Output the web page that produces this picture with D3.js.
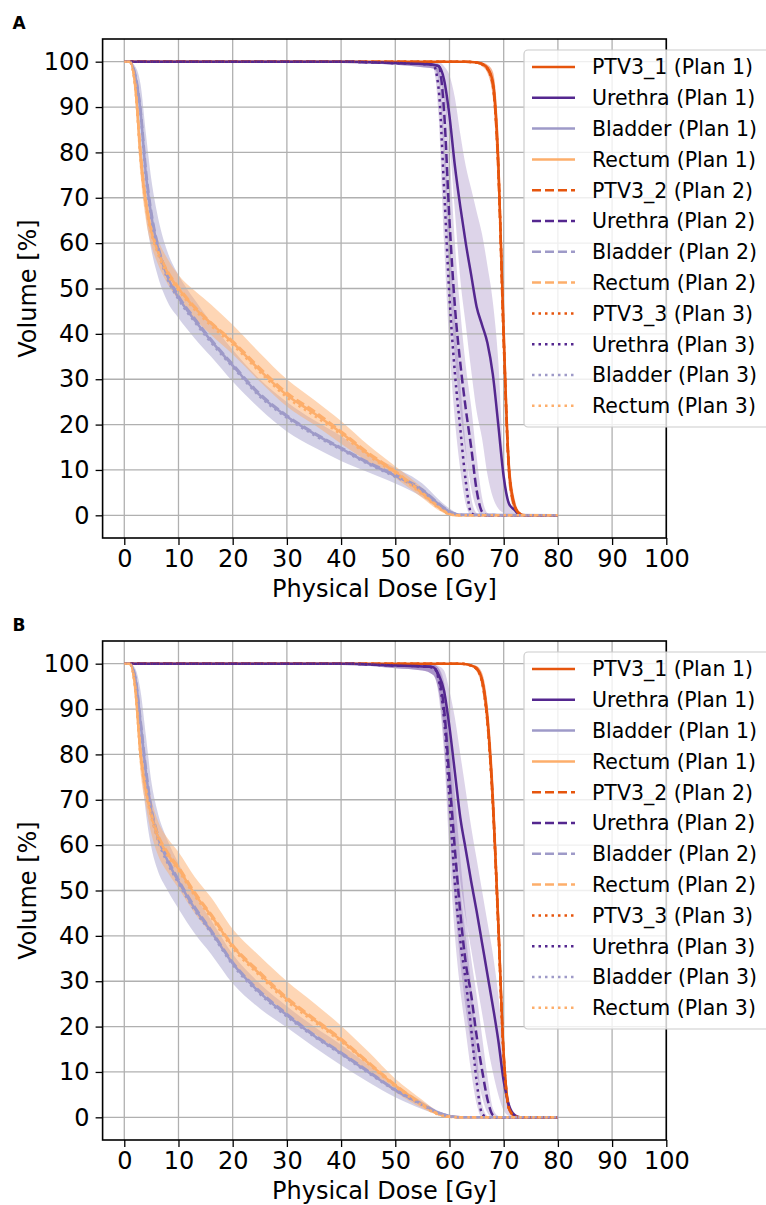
<!DOCTYPE html>
<html>
<head>
<meta charset="utf-8">
<script src="https://cdn.jsdelivr.net/npm/d3@7"></script>
<style>
  body { margin: 0; background: #fff; }
  svg { display: block; font-family: "DejaVu Sans", sans-serif; }
</style>
</head>
<body>
<svg id="chart" width="766" height="1205"></svg>
<script>
// --- dose grids (Gy) ---
const doseOar = [0, 1, 2, 3, 4, 5, 6, 8, 10, 13, 16, 20, 25, 30, 35, 40, 45, 50, 55, 58, 60, 62, 80];
const doseTarget = [0, 40, 50, 55, 57, 58, 59, 60, 61, 62, 63, 64, 65, 66, 67, 68, 69, 70, 71, 72, 73, 74, 80];

const xTicks = [0, 10, 20, 30, 40, 50, 60, 70, 80, 90, 100];
const yTicks = [0, 10, 20, 30, 40, 50, 60, 70, 80, 90, 100];

const legendLabels = [
  "PTV3_1 (Plan 1)", "Urethra (Plan 1)", "Bladder (Plan 1)", "Rectum (Plan 1)",
  "PTV3_2 (Plan 2)", "Urethra (Plan 2)", "Bladder (Plan 2)", "Rectum (Plan 2)",
  "PTV3_3 (Plan 3)", "Urethra (Plan 3)", "Bladder (Plan 3)", "Rectum (Plan 3)"
];

// --- panel A (volume %) ---
const ptvA1 = [100, 100, 100, 100, 100, 100, 100, 100, 100, 100, 100, 99.95, 99.8, 99.5, 98.6, 95.5, 78, 40, 10, 2.2, 0.3, 0, 0];
const ptvA1Lo = [100, 100, 100, 100, 100, 100, 100, 100, 100, 100, 100, 99.9, 99.6, 99, 97.5, 92, 70, 31, 6, 1, 0, 0, 0];
const ptvA1Hi = [100, 100, 100, 100, 100, 100, 100, 100, 100, 100, 100, 100, 99.9, 99.8, 99.3, 97.8, 85, 50, 15, 3.8, 0.7, 0, 0];
const ptvA2 = [100, 100, 100, 100, 100, 100, 100, 100, 100, 100, 100, 99.95, 99.8, 99.5, 98.5, 95, 76.5, 38.5, 9.5, 2, 0.3, 0, 0];
const ptvA3 = [100, 100, 100, 100, 100, 100, 100, 100, 100, 100, 100, 99.95, 99.8, 99.4, 98.4, 94.8, 77, 39, 9.8, 2.1, 0.3, 0, 0];

const urethraA1 = [100, 100, 99.7, 99.5, 99.3, 99, 96, 88, 77, 68, 60, 53, 46, 42, 38, 31, 20, 8.5, 2.5, 1.2, 0, 0, 0];
const urethraA1Lo = [100, 99.8, 99.3, 98.8, 98.5, 97, 92, 82, 67, 52, 42, 32, 23, 17, 9, 4, 1.5, 0.5, 0, 0, 0, 0, 0];
const urethraA1Hi = [100, 100, 100, 100, 100, 100, 99, 97, 92, 84, 77, 72, 67, 62, 55, 47, 34, 12, 3, 1.5, 0.2, 0, 0];
const urethraA2 = [100, 100, 99.7, 99.5, 99.3, 99, 89, 65, 46, 33.5, 23.5, 15, 5.6, 0.8, 0, 0, 0, 0, 0, 0, 0, 0, 0];
const urethraA2Lo = [100, 99.8, 99.3, 98.8, 98.5, 96, 78, 52, 35, 23, 14, 6, 1.5, 0, 0, 0, 0, 0, 0, 0, 0, 0, 0];
const urethraA2Hi = [100, 100, 100, 100, 99.8, 99.5, 96, 80, 60, 45, 33, 24, 13, 4, 0.5, 0, 0, 0, 0, 0, 0, 0, 0];
const urethraA3 = [100, 100, 99.7, 99.5, 99.3, 94, 72, 48, 31.3, 19, 7.5, 0.5, 0, 0, 0, 0, 0, 0, 0, 0, 0, 0, 0];
const urethraA3Lo = [100, 99.8, 99.3, 98.8, 98.5, 88, 60, 37, 21, 10, 2.5, 0, 0, 0, 0, 0, 0, 0, 0, 0, 0, 0, 0];
const urethraA3Hi = [100, 100, 100, 100, 99.8, 98, 84, 62, 44, 29, 15, 4, 0.5, 0, 0, 0, 0, 0, 0, 0, 0, 0, 0];

const bladderA1 = [100, 100, 97, 89, 75, 66, 60, 52.5, 48, 43, 38.5, 33, 26.5, 21.8, 18, 14.7, 11.5, 8.7, 5.5, 2.5, 0.8, 0.1, 0];
const bladderA1Lo = [100, 100, 94, 80, 66, 58.5, 53.5, 47, 43.5, 39, 35, 29.5, 23.5, 18.5, 15, 12, 9.5, 7, 4, 1.5, 0.2, 0, 0];
const bladderA1Hi = [100, 100, 99, 95, 84, 74, 67, 58, 53, 47.5, 42.5, 36.5, 30, 25, 21, 17.5, 13.5, 10.5, 7, 3.5, 1.5, 0.3, 0];
const bladderA2 = [100, 100, 97.3, 89.5, 76, 66.8, 60.6, 53, 48.4, 43.4, 38.8, 33.3, 26.8, 22, 18.2, 14.9, 11.7, 8.9, 5.7, 2.6, 0.9, 0.1, 0];
const bladderA3 = [100, 100, 96.7, 88.5, 74.3, 65.4, 59.5, 52, 47.6, 42.6, 38.1, 32.7, 26.2, 21.5, 17.7, 14.5, 11.3, 8.5, 5.3, 2.3, 0.7, 0.1, 0];

const rectumA1 = [100, 100, 95, 79, 68.5, 62.5, 58.8, 53.5, 50, 45.7, 42.3, 38.1, 32, 26.5, 22.5, 18.2, 13.5, 9.5, 4.8, 1.8, 0.3, 0, 0];
const rectumA1Lo = [100, 100, 92, 75, 65, 59.5, 56, 51, 47.5, 43.3, 39.8, 35.5, 29.5, 24, 20, 15.8, 11.8, 8.2, 3.8, 1.1, 0.1, 0, 0];
const rectumA1Hi = [100, 100, 97, 83, 72, 65.5, 61.5, 56.5, 53, 49.5, 46.5, 42, 35.8, 30, 25.5, 20.8, 15.5, 10.8, 6, 2.6, 0.6, 0, 0];
const rectumA2 = [100, 100, 95.5, 80, 69, 63, 59, 53.8, 50.3, 46, 42.5, 38.4, 32.5, 27, 23, 18.5, 13.8, 9.7, 5, 1.9, 0.3, 0, 0];
const rectumA3 = [100, 100, 94.5, 78.5, 68, 62, 58.3, 53, 49.6, 45.3, 41.8, 37.6, 31.6, 26, 22, 17.8, 13.2, 9.2, 4.6, 1.6, 0.2, 0, 0];

// --- panel B (volume %) ---
const ptvB1 = [100, 100, 100, 100, 100, 100, 100, 100, 100, 100, 99.9, 99.6, 99, 96.5, 88, 70, 43, 14, 2, 0.3, 0, 0, 0];
const ptvB1Lo = [100, 100, 100, 100, 100, 100, 100, 100, 100, 100, 99.8, 99.3, 98.3, 94.5, 84, 64, 36, 10, 1.2, 0.1, 0, 0, 0];
const ptvB1Hi = [100, 100, 100, 100, 100, 100, 100, 100, 100, 100, 100, 99.8, 99.5, 98, 91.5, 76, 50, 19, 3.5, 0.6, 0, 0, 0];
const ptvB2 = [100, 100, 100, 100, 100, 100, 100, 100, 100, 100, 99.9, 99.6, 98.9, 96.3, 87.5, 69.5, 42.5, 13.5, 1.9, 0.3, 0, 0, 0];
const ptvB3 = [100, 100, 100, 100, 100, 100, 100, 100, 100, 100, 99.9, 99.5, 98.8, 96, 87, 69, 42, 13, 1.8, 0.3, 0, 0, 0];

const urethraB1 = [100, 100, 99.6, 99.4, 99.2, 97.5, 94, 86, 76, 66, 59, 52, 45.5, 38.5, 31.5, 24.5, 17, 8, 2.5, 0.5, 0, 0, 0];
const urethraB1Lo = [100, 99.8, 99, 98.5, 97.5, 94, 86, 74, 62, 52, 44, 37, 30, 23, 16, 10, 5, 1.5, 0.3, 0, 0, 0, 0];
const urethraB1Hi = [100, 100, 100, 100, 99.8, 99.5, 98.5, 94, 88, 80, 72, 64, 57, 50, 43, 36, 27, 15, 4, 1, 0.2, 0, 0];
const urethraB2 = [100, 100, 99.6, 99.4, 99.2, 97, 90, 74.5, 59, 45, 34, 27, 18, 10.5, 4, 0.5, 0, 0, 0, 0, 0, 0, 0];
const urethraB2Lo = [100, 99.8, 99, 98.5, 97.5, 94, 82, 63, 47, 34, 24, 16, 10, 4.5, 1, 0, 0, 0, 0, 0, 0, 0, 0];
const urethraB2Hi = [100, 100, 100, 100, 99.8, 99, 96, 85, 71, 57, 45, 35, 27, 18, 9, 2, 0.3, 0, 0, 0, 0, 0, 0];
const urethraB3 = [100, 100, 99.6, 99.4, 99.2, 96.5, 88, 70, 51.5, 39, 30, 19.5, 8, 0.8, 0, 0, 0, 0, 0, 0, 0, 0, 0];
const urethraB3Lo = [100, 99.8, 99, 98.5, 97.5, 93, 80, 58, 40, 28, 19, 10, 3, 0, 0, 0, 0, 0, 0, 0, 0, 0, 0];
const urethraB3Hi = [100, 100, 100, 100, 99.8, 99, 94, 81, 63, 50, 40, 29, 15, 3, 0.3, 0, 0, 0, 0, 0, 0, 0, 0];

const bladderB1 = [100, 100, 97, 87, 76, 67.5, 62.5, 56.5, 52, 46, 41, 33.9, 27.5, 22.5, 18, 14.1, 10, 6, 2.8, 1, 0.3, 0, 0];
const bladderB1Lo = [100, 100, 94, 79, 67, 59.5, 55, 50, 46, 40.5, 36, 29.5, 24, 19.8, 15.5, 11.5, 7.8, 4.4, 1.8, 0.6, 0.1, 0, 0];
const bladderB1Hi = [100, 100, 99, 94, 84, 74, 68, 61, 56, 49, 43.5, 36, 29.5, 24.5, 20, 16, 11.6, 7.2, 3.5, 1.4, 0.5, 0, 0];
const bladderB2 = [100, 100, 97.3, 87.6, 76.8, 68.2, 63.1, 57, 52.4, 46.4, 41.3, 34.2, 27.8, 22.8, 18.2, 14.3, 10.2, 6.1, 2.9, 1, 0.3, 0, 0];
const bladderB3 = [100, 100, 96.7, 86.4, 75.2, 66.8, 61.9, 56, 51.6, 45.6, 40.7, 33.6, 27.2, 22.2, 17.8, 13.9, 9.8, 5.9, 2.7, 0.9, 0.2, 0, 0];

const rectumB1 = [100, 100, 95, 80, 72, 66.5, 62.5, 58, 54.8, 49.2, 44.5, 37.7, 31.6, 26, 21.5, 17, 12, 7, 2.8, 0.7, 0.1, 0, 0];
const rectumB1Lo = [100, 100, 92, 76, 68.5, 62.5, 58.5, 54, 50.5, 45, 40.5, 34, 28, 22.8, 18.5, 14.3, 10, 5.6, 2, 0.4, 0, 0, 0];
const rectumB1Hi = [100, 100, 97.5, 84, 76, 70, 66, 61.5, 58.5, 53, 48.5, 41.5, 35.5, 30, 25.2, 20.2, 14.5, 8.5, 3.8, 1.1, 0.2, 0, 0];
const rectumB2 = [100, 100, 95.3, 80.6, 72.5, 67, 63, 58.4, 55.2, 49.6, 44.8, 38, 32, 26.4, 21.8, 17.3, 12.2, 7.2, 2.9, 0.7, 0.1, 0, 0];
const rectumB3 = [100, 100, 94.7, 79.4, 71.5, 66, 62, 57.6, 54.4, 48.8, 44.1, 37.3, 31.2, 25.6, 21.1, 16.7, 11.8, 6.8, 2.6, 0.6, 0.1, 0, 0];

// --- styles ---
const colors = { PTV: "#e6550d", Urethra: "#54278f", Bladder: "#9e9ac8", Rectum: "#fdae6b" };
const bandOpacity = { PTV: 0.45, Urethra: 0.2, Bladder: 0.45, Rectum: 0.5 };
const dashes = [null, "9,4", "2.5,4"];

function series(s, plan, dose, mean, lo, hi) {
  return { s, plan, dose, mean, lo, hi };
}

const panelA = [
  series("PTV", 0, doseTarget, ptvA1, ptvA1Lo, ptvA1Hi),
  series("Urethra", 0, doseTarget, urethraA1, urethraA1Lo, urethraA1Hi),
  series("Bladder", 0, doseOar, bladderA1, bladderA1Lo, bladderA1Hi),
  series("Rectum", 0, doseOar, rectumA1, rectumA1Lo, rectumA1Hi),
  series("PTV", 1, doseTarget, ptvA2),
  series("Urethra", 1, doseTarget, urethraA2, urethraA2Lo, urethraA2Hi),
  series("Bladder", 1, doseOar, bladderA2),
  series("Rectum", 1, doseOar, rectumA2),
  series("PTV", 2, doseTarget, ptvA3),
  series("Urethra", 2, doseTarget, urethraA3, urethraA3Lo, urethraA3Hi),
  series("Bladder", 2, doseOar, bladderA3),
  series("Rectum", 2, doseOar, rectumA3)
];

const panelB = [
  series("PTV", 0, doseTarget, ptvB1, ptvB1Lo, ptvB1Hi),
  series("Urethra", 0, doseTarget, urethraB1, urethraB1Lo, urethraB1Hi),
  series("Bladder", 0, doseOar, bladderB1, bladderB1Lo, bladderB1Hi),
  series("Rectum", 0, doseOar, rectumB1, rectumB1Lo, rectumB1Hi),
  series("PTV", 1, doseTarget, ptvB2),
  series("Urethra", 1, doseTarget, urethraB2, urethraB2Lo, urethraB2Hi),
  series("Bladder", 1, doseOar, bladderB2),
  series("Rectum", 1, doseOar, rectumB2),
  series("PTV", 2, doseTarget, ptvB3),
  series("Urethra", 2, doseTarget, urethraB3, urethraB3Lo, urethraB3Hi),
  series("Bladder", 2, doseOar, bladderB3),
  series("Rectum", 2, doseOar, rectumB3)
];

const svg = d3.select("#chart");

// plot area (panel A coordinates; B is shifted down)
const plot = { left: 102.6, right: 666.3, top: 39, bottom: 538 };

const xScale = d3.scaleLinear().domain([-4, 100]).range([plot.left, plot.right]);
const yScale = d3.scaleLinear().domain([-5, 105]).range([plot.bottom, plot.top]);

function drawPanel(data, offsetY, letter, id) {
  const g = svg.append("g").attr("transform", `translate(0, ${offsetY})`);

  g.append("defs")
    .append("clipPath")
    .attr("id", "clip-" + id)
    .append("rect")
    .attr("x", plot.left)
    .attr("y", plot.top)
    .attr("width", plot.right - plot.left)
    .attr("height", plot.bottom - plot.top);

  const area = d3.area()
    .x((d) => xScale(d[0]))
    .y0((d) => yScale(d[1]))
    .y1((d) => yScale(d[2]))
    .curve(d3.curveMonotoneX);

  const line = d3.line()
    .x((d) => xScale(d[0]))
    .y((d) => yScale(d[1]))
    .curve(d3.curveMonotoneX);

  const dataLayer = g.append("g").attr("clip-path", `url(#clip-${id})`);

  // --- bands (drawn below grid, like matplotlib collections) ---
  data.filter((d) => d.lo).forEach((d) => {
    const pts = d.dose.map((x, i) => [x, d.lo[i], d.hi[i]]);
    dataLayer.append("path")
      .attr("d", area(pts))
      .attr("fill", colors[d.s])
      .attr("fill-opacity", bandOpacity[d.s])
      .attr("stroke", "none");
  });

  // --- grid ---
  const grid = dataLayer.append("g").attr("stroke", "#b0b0b0").attr("stroke-width", 1.3);
  grid.selectAll("line.gx")
    .data(xTicks)
    .enter()
    .append("line")
    .attr("x1", (d) => xScale(d))
    .attr("x2", (d) => xScale(d))
    .attr("y1", plot.top)
    .attr("y2", plot.bottom);
  grid.selectAll("line.gy")
    .data(yTicks)
    .enter()
    .append("line")
    .attr("x1", plot.left)
    .attr("x2", plot.right)
    .attr("y1", (d) => yScale(d))
    .attr("y2", (d) => yScale(d));

  // --- mean lines ---
  data.forEach((d) => {
    const pts = d.dose.map((x, i) => [x, d.mean[i]]);
    dataLayer.append("path")
      .attr("d", line(pts))
      .attr("fill", "none")
      .attr("stroke", colors[d.s])
      .attr("stroke-width", 2.5)
      .attr("stroke-dasharray", dashes[d.plan]);
  });

  // --- axes ---
  const xAxis = g.append("g")
    .attr("transform", `translate(0, ${plot.bottom})`)
    .call(d3.axisBottom(xScale).tickValues(xTicks).tickSize(7).tickPadding(5));
  const yAxis = g.append("g")
    .attr("transform", `translate(${plot.left}, 0)`)
    .call(d3.axisLeft(yScale).tickValues(yTicks).tickSize(7).tickPadding(6));

  [xAxis, yAxis].forEach((a) => {
    a.select(".domain").remove();
    a.selectAll(".tick line").attr("stroke", "#000").attr("stroke-width", 1.3);
    a.selectAll(".tick text")
      .attr("fill", "#000")
      .style("font-size", "24px")
      .style("font-family", "DejaVu Sans");
  });

  g.append("rect")
    .attr("x", plot.left)
    .attr("y", plot.top)
    .attr("width", plot.right - plot.left)
    .attr("height", plot.bottom - plot.top)
    .attr("fill", "none")
    .attr("stroke", "#000")
    .attr("stroke-width", 1.6);

  // axis titles
  g.append("text")
    .attr("x", (plot.left + plot.right) / 2)
    .attr("y", 597)
    .attr("text-anchor", "middle")
    .style("font-size", "24px")
    .text("Physical Dose [Gy]");

  g.append("text")
    .attr("transform", `translate(36, ${(plot.top + plot.bottom) / 2}) rotate(-90)`)
    .attr("text-anchor", "middle")
    .style("font-size", "24px")
    .text("Volume [%]");

  // panel letter
  g.append("text")
    .attr("x", 12.5)
    .attr("y", 28.5)
    .style("font-size", "17px")
    .style("font-weight", "bold")
    .style("font-family", "DejaVu Sans")
    .text(letter);

  // --- legend ---
  const leg = g.append("g");
  leg.append("rect")
    .attr("x", 524)
    .attr("y", 50)
    .attr("width", 260)
    .attr("height", 377)
    .attr("rx", 4)
    .attr("fill", "#fff")
    .attr("fill-opacity", 0.8)
    .attr("stroke", "#cccccc")
    .attr("stroke-width", 1.2);

  const rowH = 30.8;
  data.forEach((d, i) => {
    const yy = 67 + i * rowH;
    leg.append("line")
      .attr("x1", 532)
      .attr("x2", 575)
      .attr("y1", yy)
      .attr("y2", yy)
      .attr("stroke", colors[d.s])
      .attr("stroke-width", 2.5)
      .attr("stroke-dasharray", dashes[d.plan]);
    leg.append("text")
      .attr("x", 592)
      .attr("y", yy)
      .attr("dy", "0.36em")
      .style("font-size", "20.5px")
      .text(legendLabels[i]);
  });
}

drawPanel(panelA, 0, "A", "a");
drawPanel(panelB, 602, "B", "b");
</script>
</body>
</html>
